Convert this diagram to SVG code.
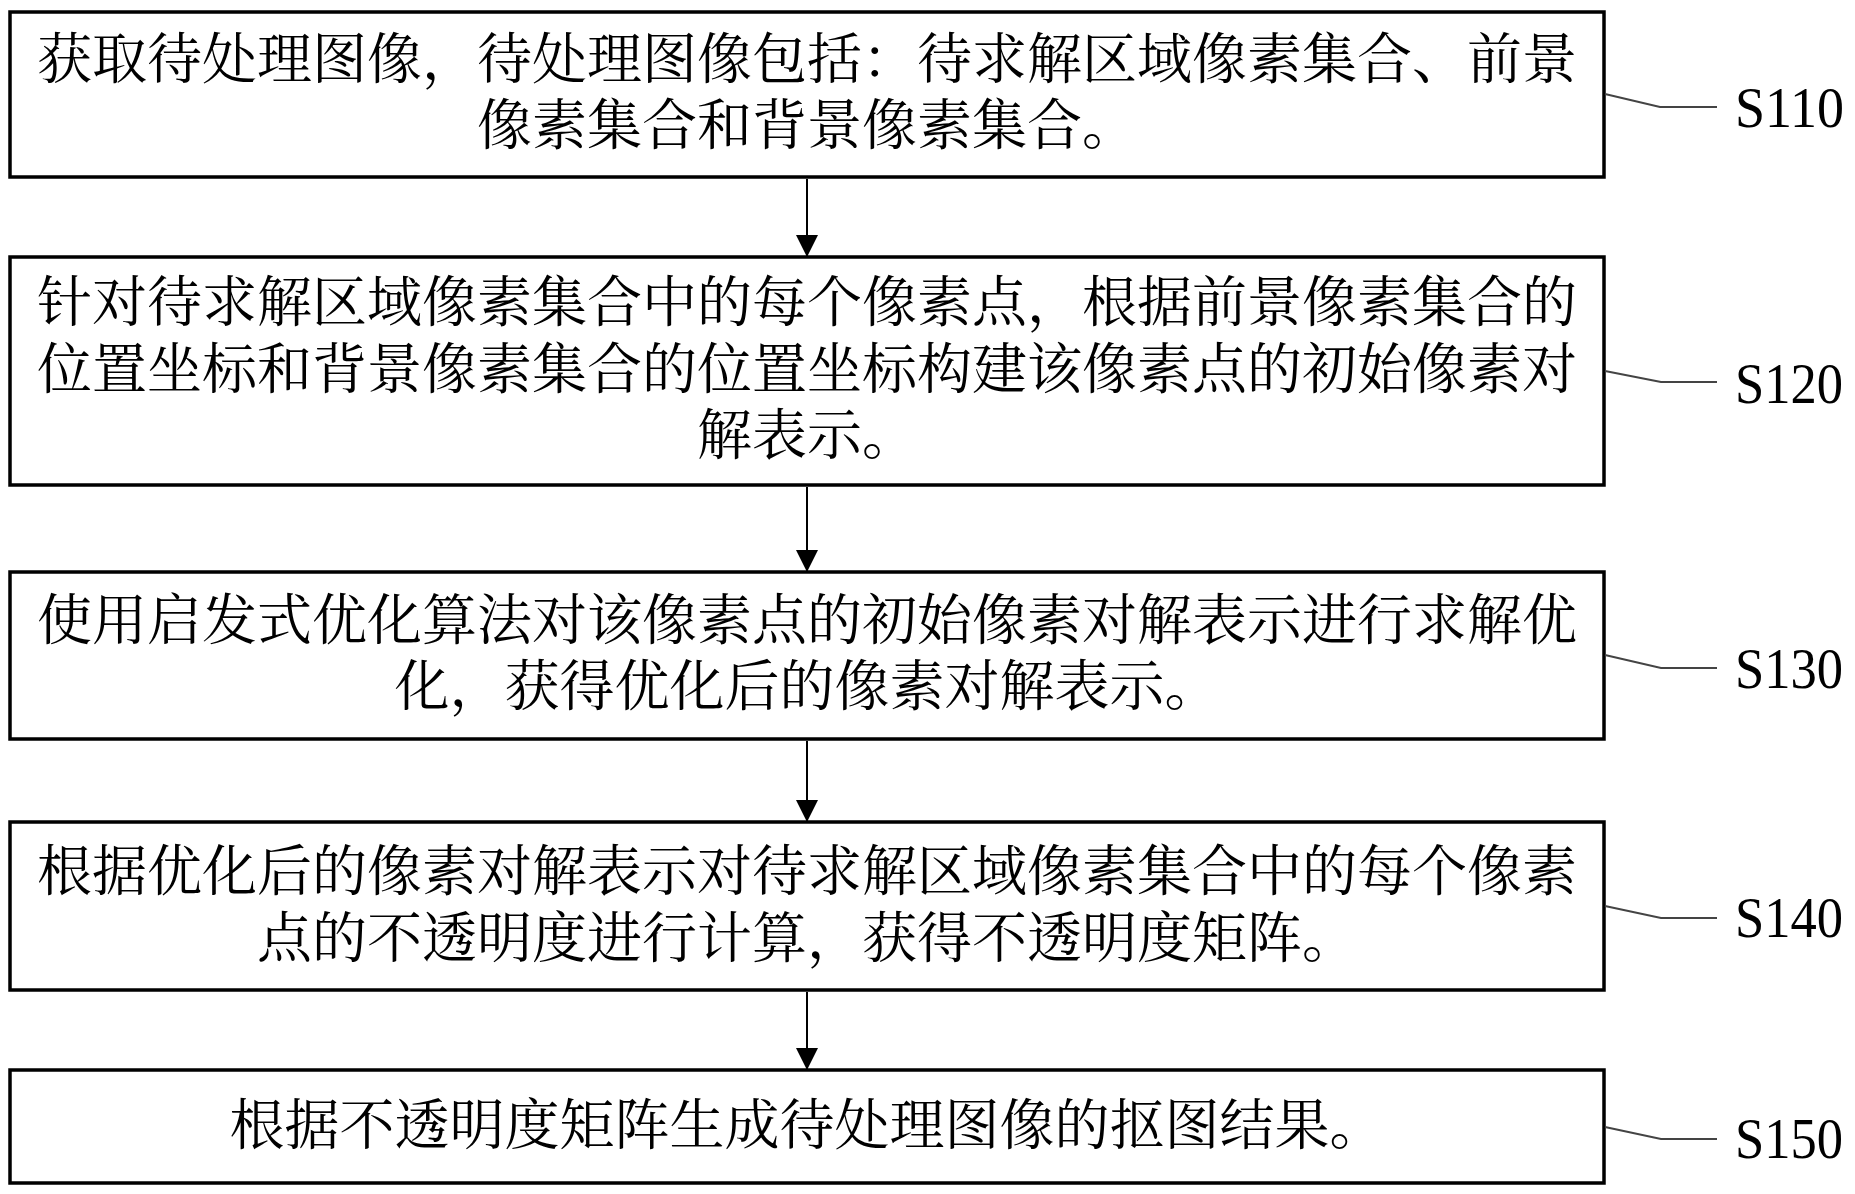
<svg xmlns="http://www.w3.org/2000/svg" width="1855" height="1194" viewBox="0 0 1855 1194">
<style>
.box{fill:#fff;stroke:#000;stroke-width:3.5}
.t{font-family:"Noto Serif CJK SC","Liberation Serif","Noto Sans CJK SC",serif;font-size:55px;fill:#000;text-anchor:middle}
.lbl{font-family:"Liberation Serif","Times New Roman",serif;font-size:57px;fill:#000}
.conn{stroke:#000;stroke-width:2;fill:none}
.lead{stroke:#444;stroke-width:2;fill:none}
</style>
<defs>
<marker id="ah" markerUnits="userSpaceOnUse" markerWidth="24" markerHeight="24" refX="22" refY="11" orient="auto">
<path d="M0,0 L22,11 L0,22 z" fill="#000"/>
</marker>
</defs>
<rect width="1855" height="1194" fill="#fff"/>
<g id="connectors">
<line class="conn" x1="807" y1="179" x2="807" y2="257" marker-end="url(#ah)"/>
<line class="conn" x1="807" y1="487" x2="807" y2="572" marker-end="url(#ah)"/>
<line class="conn" x1="807" y1="741" x2="807" y2="822" marker-end="url(#ah)"/>
<line class="conn" x1="807" y1="992" x2="807" y2="1070" marker-end="url(#ah)"/>
</g>
<g id="S110">
<rect class="box" x="10" y="12" width="1594" height="165"/>
<text class="t" x="807" y="78">获取待处理图像，待处理图像包括：待求解区域像素集合、前景</text>
<text class="t" x="807" y="144">像素集合和背景像素集合。</text>
<polyline class="lead" points="1605,94 1660,107 1717,107"/>
<text class="lbl" x="1735" y="127" textLength="109" lengthAdjust="spacingAndGlyphs">S110</text>
</g>
<g id="S120">
<rect class="box" x="10" y="257" width="1594" height="228"/>
<text class="t" x="807" y="321">针对待求解区域像素集合中的每个像素点，根据前景像素集合的</text>
<text class="t" x="807" y="388">位置坐标和背景像素集合的位置坐标构建该像素点的初始像素对</text>
<text class="t" x="807" y="454">解表示。</text>
<polyline class="lead" points="1605,371 1661,382 1717,382"/>
<text class="lbl" x="1735" y="403" textLength="108" lengthAdjust="spacingAndGlyphs">S120</text>
</g>
<g id="S130">
<rect class="box" x="10" y="572" width="1594" height="167"/>
<text class="t" x="807" y="639">使用启发式优化算法对该像素点的初始像素对解表示进行求解优</text>
<text class="t" x="807" y="705">化，获得优化后的像素对解表示。</text>
<polyline class="lead" points="1605,655 1661,668 1717,668"/>
<text class="lbl" x="1735" y="688" textLength="108" lengthAdjust="spacingAndGlyphs">S130</text>
</g>
<g id="S140">
<rect class="box" x="10" y="822" width="1594" height="168"/>
<text class="t" x="807" y="890">根据优化后的像素对解表示对待求解区域像素集合中的每个像素</text>
<text class="t" x="807" y="957">点的不透明度进行计算，获得不透明度矩阵。</text>
<polyline class="lead" points="1605,906 1661,918 1717,918"/>
<text class="lbl" x="1735" y="937" textLength="108" lengthAdjust="spacingAndGlyphs">S140</text>
</g>
<g id="S150">
<rect class="box" x="10" y="1070" width="1594" height="113"/>
<text class="t" x="807" y="1144">根据不透明度矩阵生成待处理图像的抠图结果。</text>
<polyline class="lead" points="1605,1127 1661,1139 1717,1139"/>
<text class="lbl" x="1735" y="1158" textLength="108" lengthAdjust="spacingAndGlyphs">S150</text>
</g>
</svg>
